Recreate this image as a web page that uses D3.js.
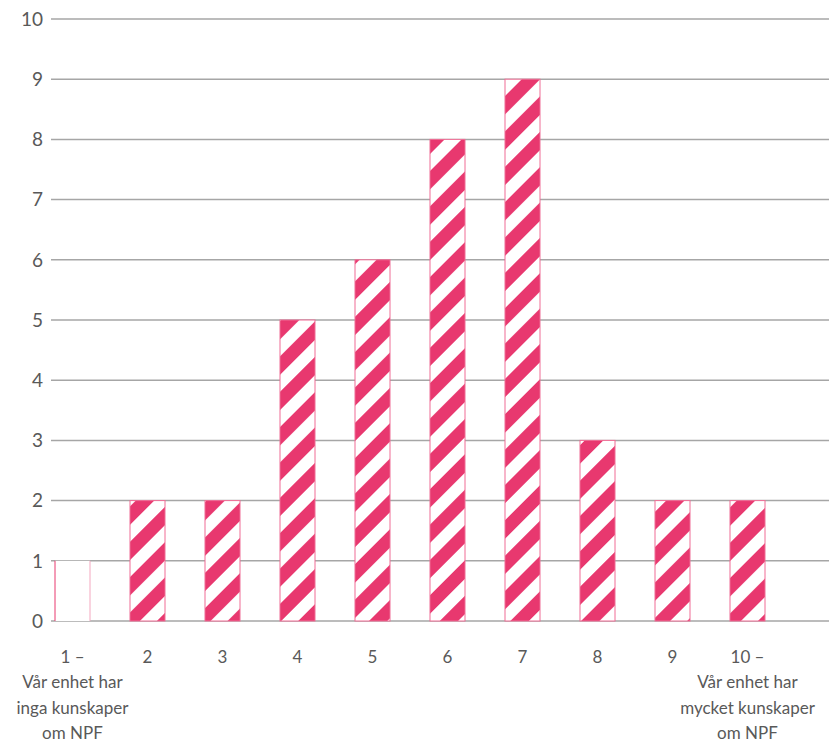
<!DOCTYPE html>
<html>
<head>
<meta charset="utf-8">
<script src="https://cdnjs.cloudflare.com/ajax/libs/d3/7.8.5/d3.min.js"></script>
<style>
  body { margin: 0; background: #fff; }
  text { font-family: Lato, sans-serif; fill: #595959; }
</style>
</head>
<body>
<svg id="chart" width="829" height="744"></svg>
<script>
// kategorier (skala 1-10) och antal svar
var categories = ["1", "2", "3", "4", "5", "6", "7", "8", "9", "10"];
var values = [1, 2, 2, 5, 6, 8, 9, 3, 2, 2];
var xLabels = [
  ["1 –", "Vår enhet har", "inga kunskaper", "om NPF"],
  ["2"], ["3"], ["4"], ["5"], ["6"], ["7"], ["8"], ["9"],
  ["10 –", "Vår enhet har", "mycket kunskaper", "om NPF"]
];
var yTicks = [0, 1, 2, 3, 4, 5, 6, 7, 8, 9, 10];

const pink = "#E8386F";

var svg = d3.select("#chart");

// steg 75 px, stapelbredd 35 px
var x = d3.scaleBand()
    .domain(categories)
    .range([35, 785])
    .paddingInner(40 / 75)
    .paddingOuter(20 / 75);

var y = d3.scaleLinear()
    .domain([0, 10])
    .range([621, 19]);

// randigt mönster
var defs = svg.append("defs");
var pat = defs.append("pattern")
    .attr("id", "stripes")
    .attr("patternUnits", "userSpaceOnUse")
    .attr("width", 25)
    .attr("height", 25)
    .attr("patternTransform", "rotate(45)");
pat.append("rect").attr("width", 25).attr("height", 25).attr("fill", "#fff");
pat.append("rect").attr("width", 13).attr("height", 25).attr("fill", pink);

// stödlinjer
svg.append("g").selectAll("line")
    .data(yTicks)
    .enter().append("line")
    .attr("x1", 51)
    .attr("x2", 829)
    .attr("y1", function(d) { return y(d); })
    .attr("y2", function(d) { return y(d); })
    .attr("stroke", "#A6A6A6")
    .attr("stroke-width", 1.5);

// y-axelns etiketter
svg.append("g").selectAll("text")
    .data(yTicks)
    .enter().append("text")
    .attr("x", 43)
    .attr("y", function(d) { return y(d); })
    .attr("dy", "0.36em")
    .attr("text-anchor", "end")
    .style("font-size", "19px")
    .text(function(d) { return d; });

// staplar
var bars = svg.append("g").selectAll("g")
    .data(values)
    .enter().append("g");

bars.append("rect")
    .attr("x", function(d, i) { return x(categories[i]); })
    .attr("y", function(d) { return y(d); })
    .attr("width", x.bandwidth())
    .attr("height", function(d) { return y(0) - y(d); })
    .attr("fill", function(d, i) { return i === 0 ? "#fff" : "url(#stripes)"; })
    .attr("stroke", function(d, i) { return i === 0 ? "none" : "#F06D95"; })
    .attr("stroke-width", 1);

// första stapeln ritas bara med kanter
bars.filter(function(d, i) { return i === 0; })
  .each(function(d) {
    var g = d3.select(this);
    var x0 = x(categories[0]);
    [x0, x0 + x.bandwidth()].forEach(function(xx, k) {
      g.append("line")
        .attr("x1", xx).attr("x2", xx)
        .attr("y1", y(d)).attr("y2", y(0))
        .attr("stroke", k === 0 ? pink : "#F4A7BF")
        .attr("stroke-width", 1);
    });
  });

// x-axelns etiketter
var xl = svg.append("g").selectAll("text")
    .data(xLabels)
    .enter().append("text")
    .attr("text-anchor", "middle")
    .style("font-size", "17px")
    .attr("transform", function(d, i) {
      return "translate(" + (x(categories[i]) + x.bandwidth() / 2) + ",663)";
    });

xl.selectAll("tspan")
    .data(function(d) { return d; })
    .enter().append("tspan")
    .attr("x", 0)
    .attr("y", function(d, j) { return j * 25.3; })
    .text(function(d) { return d; });
</script>
</body>
</html>
